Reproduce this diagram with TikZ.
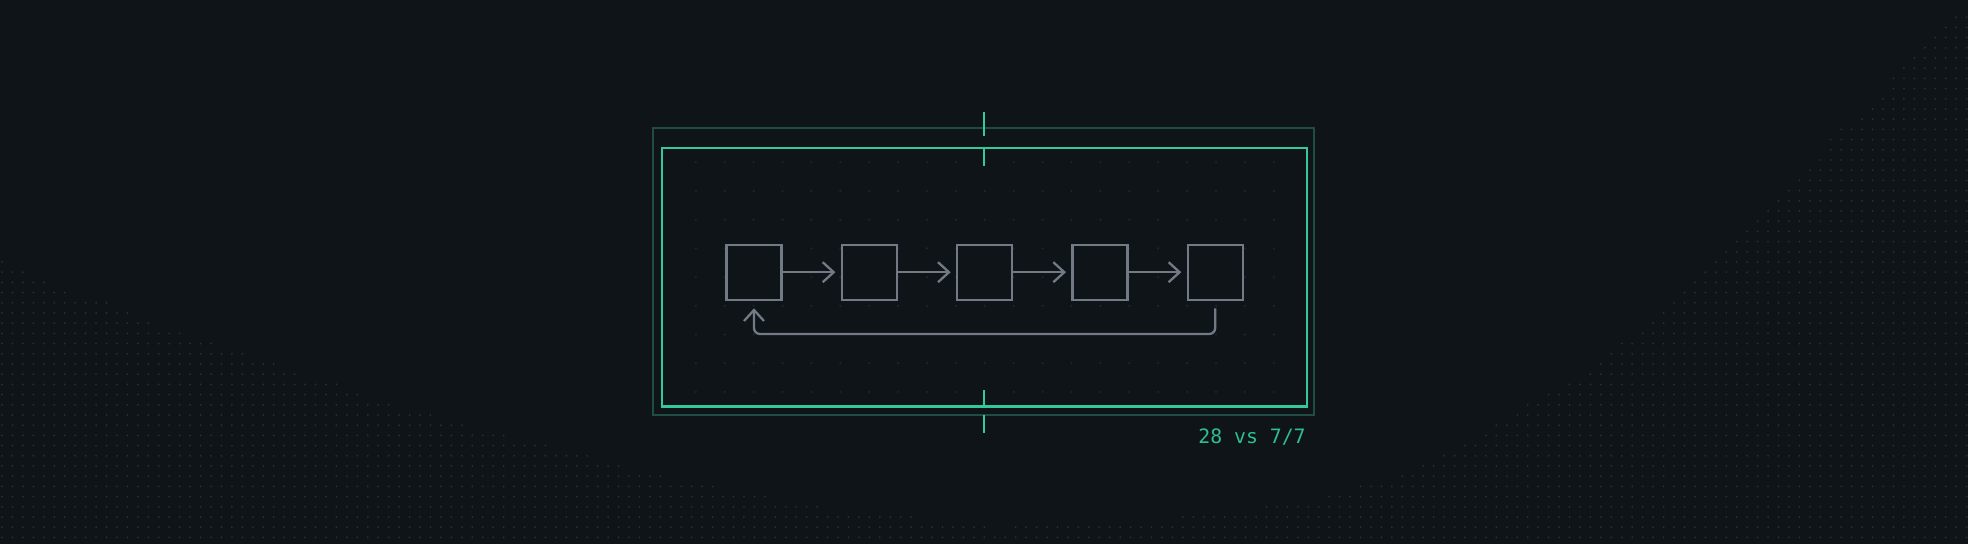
\documentclass[tikz,border=0pt]{standalone}
\usepackage{fontspec}
\newfontfamily\scoremono{DejaVu Sans Mono}
\usetikzlibrary{positioning,arrows.meta}

\definecolor{bgdark}{HTML}{0F1419}
\definecolor{dotgray}{HTML}{292F38}
\definecolor{griddot}{HTML}{1F252D}
\definecolor{cellgray}{HTML}{727A85}
\definecolor{framegreen}{HTML}{35C898}
\definecolor{framedim}{HTML}{1F4C45}
\definecolor{scoregreen}{HTML}{2FBE8E}

\begin{document}
\begin{tikzpicture}[x = 0.5pt, y = -0.5pt,
    cell/.style = {draw = cellgray, fill = bgdark, line width = 1.15pt, minimum size = 27.5pt,
      inner sep = 0pt, outer sep = 0pt},
    flow/.style = {draw = cellgray, line width = 1.15pt, -{Straight Barb[length = 5.5pt, width = 10pt]}},
    tick/.style = {draw = framegreen, line width = 1.2pt},
    node distance = 30.15pt]
  \fill[bgdark] (0, 0) rectangle (1968, 544);
  \useasboundingbox (0, 0) rectangle (1968, 544);

  % dotted fields, left: row / last column
  \foreach \r/\n in {0/0, 1/2, 2/4, 3/6, 4/10, 5/12, 6/14, 7/17, 8/20, 9/23, 10/26, 11/28, 12/32, 13/34,
      14/37, 15/41, 16/44, 17/48, 18/52, 19/56, 20/59, 21/63, 22/68, 23/73, 24/78, 25/87, 26/94, 27/188}
    \foreach \c in {0, ..., \n}
      \fill[dotgray] (2 + 10.45*\c, 262 + 10.2*\r) circle (0.5pt);
  % right: row / first column
  \foreach \r/\n in {0/187, 1/186, 2/185, 3/184, 4/183, 5/182, 6/181, 7/181, 8/180, 9/179, 10/178, 11/176,
      12/175, 13/175, 14/174, 15/173, 16/172, 17/171, 18/170, 19/169, 20/168, 21/167, 22/166, 23/165,
      24/164, 25/163, 26/162, 27/161, 28/160, 29/159, 30/158, 31/157, 32/155, 33/154, 34/153, 35/152,
      36/150, 37/148, 38/146, 39/145, 40/143, 41/142, 42/140, 43/138, 44/136, 45/134, 46/130, 47/127,
      48/121, 49/113, 50/97}
    \foreach \c in {\n, ..., 188}
      \fill[dotgray] (2 + 10.45*\c, 17.2 + 10.2*\r) circle (0.5pt);

  % grid inside the frame
  \foreach \c in {0, ..., 20}
    \foreach \r in {0, ..., 8}
      \fill[griddot] (695.8 + 28.9*\c, 162.3 + 28.7*\r) circle (0.6pt);

  % frame
  \draw[framedim, line width = 1pt] (653, 128.3) rectangle (1314.3, 414.6);
  \draw[framegreen, line width = 1.2pt] (661.8, 148.3) rectangle (1307, 406.7);
  \foreach \a/\b in {111.7/135.7, 148.3/165.7, 390/406.7, 415/432.7}
    \draw[tick] (984.2, \a) -- (984.2, \b);

  % cells
  \node[cell] (c3) at (984.6, 272.2) {};
  \node[cell, left = of c3] (c2) {};
  \node[cell, left = of c2] (c1) {};
  \node[cell, right = of c3] (c4) {};
  \node[cell, right = of c4] (c5) {};

  \foreach \a/\b in {c1/c2, c2/c3, c3/c4, c4/c5}
    \draw[flow, shorten > = 3.2pt] (\a) -- (\b);
  \draw[flow, rounded corners = 3pt] ([yshift = -4.3pt] c5.south) |- ([yshift = -17.15pt] c3.south)
    -| ([yshift = -4.3pt] c1.south);

  \node[text = scoregreen, font = \scoremono\fontsize{9.9}{12}\selectfont, anchor = base east,
    inner sep = 0pt] (score) at (1306, 443.3) {28 vs 7/7};
\end{tikzpicture}
\end{document}
